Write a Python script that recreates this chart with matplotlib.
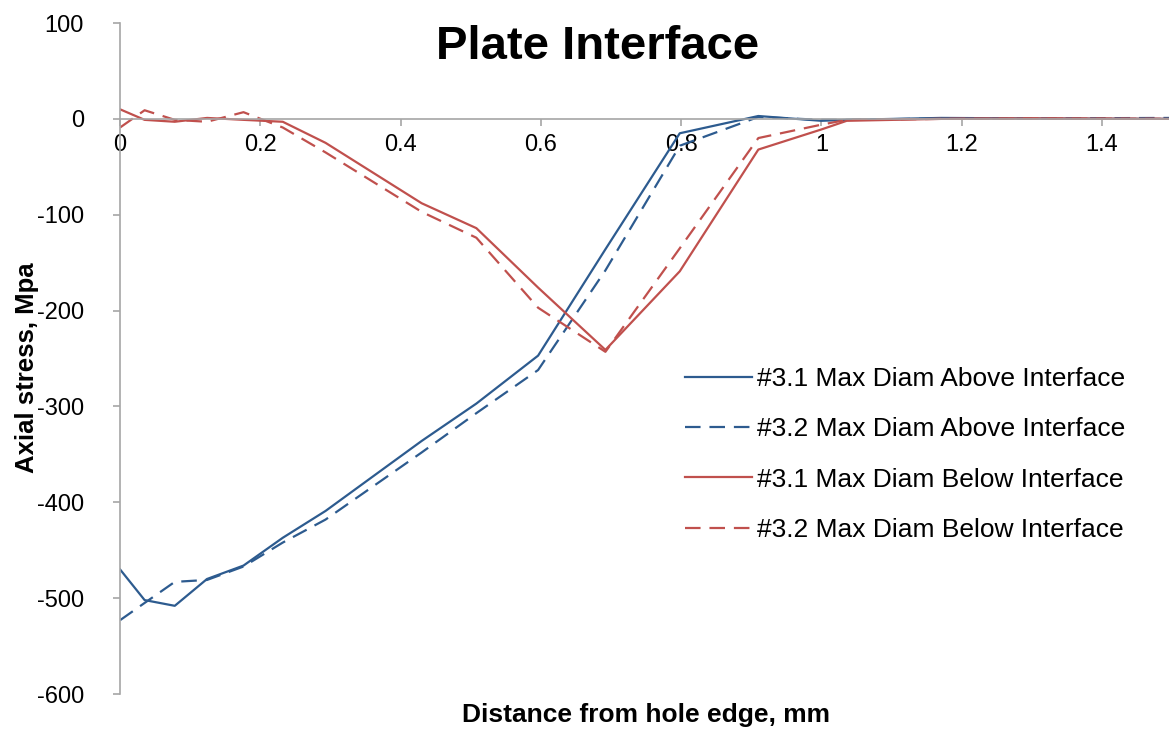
import matplotlib
matplotlib.use("Agg")
import matplotlib.pyplot as plt

# distance from hole edge (mm) at the sampled nodes
distance_mm = [0, 0.035, 0.078, 0.124, 0.176, 0.232, 0.293, 0.43, 0.508, 0.596,
               0.692, 0.798, 0.91, 1.0, 1.036, 1.17, 1.3, 1.5]

# axial stress (MPa) along the path
above_31 = [-470, -502, -508, -480, -466, -437, -409, -336, -297, -247,
            -136, -15, 3, -2, -1, 1, 0.5, 0]
above_32 = [-523, -505, -483, -481, -467, -442, -418, -348, -307, -262,
            -158, -28, 2, -1, -1, 0.5, 0.5, 1]
below_31 = [10, -1, -3, 1, -1, -3, -25, -88, -114, -176,
            -241, -159, -32, -11, -2, 0, 0.5, 0]
below_32 = [-9, 9, -1, -3, 7, -9, -35, -97, -124, -197,
            -243, -135, -20, -6, -1, 0, 0.5, 0]

labels = ["#3.1 Max Diam Above Interface", "#3.2 Max Diam Above Interface",
          "#3.1 Max Diam Below Interface", "#3.2 Max Diam Below Interface"]

BLUE = "#2d5b8f"
RED = "#c0504d"
GREY = "#a6a6a6"

plt.rcParams["font.family"] = ["Liberation Sans", "DejaVu Sans"]
plt.rcParams["axes.unicode_minus"] = False

fig = plt.figure(figsize=(11.69, 7.29), dpi=100)
ax = fig.add_axes([0.1027, 0.048, 0.900, 0.9204])

dash = (7, 4)
ax.plot(distance_mm, above_31, color=BLUE, lw=1.6, label=labels[0])
ax.plot(distance_mm, above_32, color=BLUE, lw=1.6, dashes=dash, label=labels[1])
ax.plot(distance_mm, below_31, color=RED, lw=1.6, label=labels[2])
ax.plot(distance_mm, below_32, color=RED, lw=1.6, dashes=dash, label=labels[3])

ax.set_xlim(0, 1.5)
ax.set_ylim(-600, 100)
ax.set_xticks([0, 0.2, 0.4, 0.6, 0.8, 1.0, 1.2, 1.4])
ax.set_xticklabels(["0", "0.2", "0.4", "0.6", "0.8", "1", "1.2", "1.4"])
ax.set_yticks(range(-600, 101, 100))

# excel style axes: x axis crosses at zero
for side in ("top", "right"):
    ax.spines[side].set_visible(False)
ax.spines["bottom"].set_position(("data", 0))
for side in ("left", "bottom"):
    ax.spines[side].set_color(GREY)
    ax.spines[side].set_linewidth(1.2)
ax.tick_params(axis="both", colors=GREY, labelcolor="black", labelsize=17,
               length=5, width=1.2)
ax.tick_params(axis="y", pad=21)
ax.tick_params(axis="x", pad=6)

ax.set_xlabel("Distance from hole edge, mm", fontsize=19, fontweight="bold")
ax.xaxis.set_label_coords(0.5, -0.014, transform=ax.transAxes)
ax.xaxis.label.set_va("top")
ax.set_ylabel("Axial stress, Mpa", fontsize=18.5, fontweight="bold")
ax.yaxis.set_label_coords(-0.088, 0.487)
ax.yaxis.label.set_va("center")

fig.text(0.511, 0.935, "Plate Interface", fontsize=34, fontweight="bold",
         ha="center", va="center")

ax.legend(loc="upper left", bbox_to_anchor=(0.514, 0.523), frameon=False,
          fontsize=19, handlelength=2.54, labelspacing=1.0, handletextpad=0.19)

fig.savefig("out.png", dpi=100)
